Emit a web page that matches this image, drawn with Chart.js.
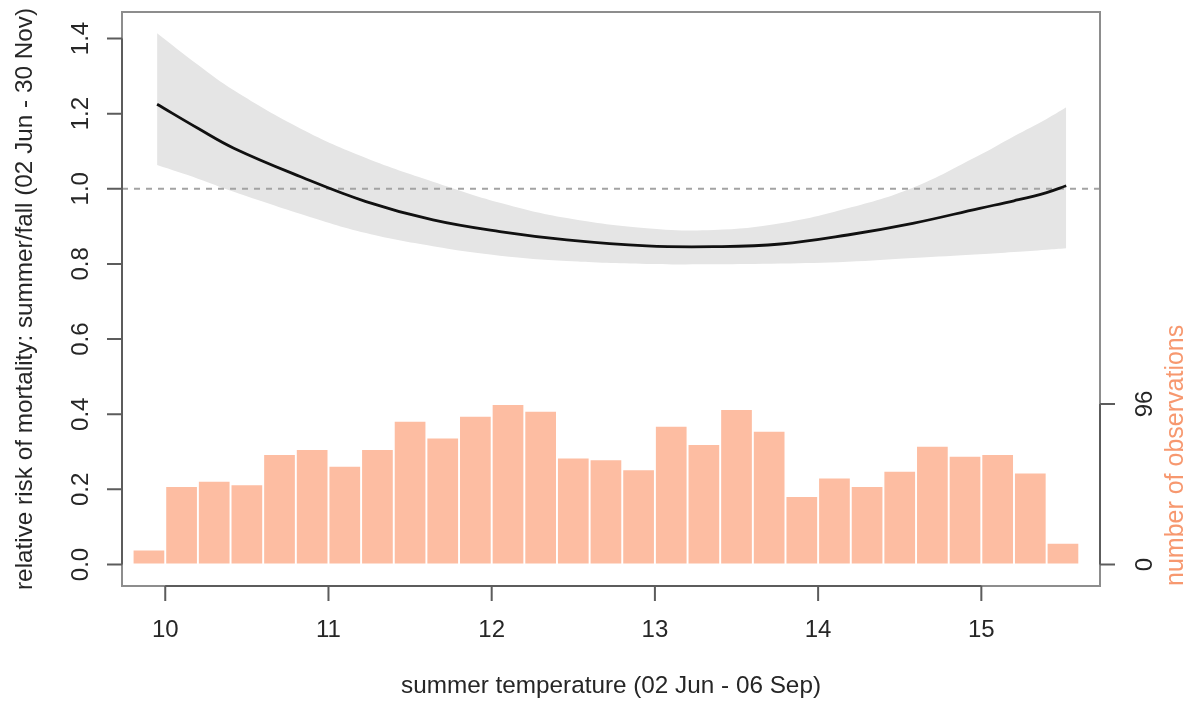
<!DOCTYPE html>
<html>
<head>
<meta charset="utf-8">
<script src="https://cdn.jsdelivr.net/npm/chart.js@4.4.1/dist/chart.umd.min.js"></script>
<style>
  html, body { margin: 0; padding: 0; background: #ffffff; }
  #wrap { width: 1190px; height: 704px; }
</style>
</head>
<body>
<div id="wrap"><canvas id="c" width="1190" height="704"></canvas></div>
<script>
// ---------- data ----------
// histogram: bin centres (bin width 0.2) and counts
const binCenters = [9.9, 10.1, 10.3, 10.5, 10.7, 10.9, 11.1, 11.3, 11.5, 11.7, 11.9, 12.1, 12.3, 12.5, 12.7,
                    12.9, 13.1, 13.3, 13.5, 13.7, 13.9, 14.1, 14.3, 14.5, 14.7, 14.9, 15.1, 15.3, 15.5];
const binCounts  = [9, 47, 50, 48, 66, 69, 59, 69, 86, 76, 89, 96, 92, 64, 63,
                    57, 83, 72, 93, 80, 41, 52, 47, 56, 71, 65, 66, 55, 13];

// exposure-response curve and its confidence band
const temps   = [9.95, 10.2, 10.42, 10.83, 11.23, 11.64, 12.05, 12.46, 12.95, 13.36, 13.77, 14.18, 14.58, 14.99, 15.2, 15.4, 15.52];
const rrFit   = [1.225, 1.161, 1.108, 1.032, 0.966, 0.917, 0.886, 0.864, 0.848, 0.846, 0.853, 0.877, 0.908, 0.948, 0.968, 0.990, 1.008];
const rrUpper = [1.414, 1.330, 1.262, 1.160, 1.082, 1.019, 0.963, 0.922, 0.895, 0.890, 0.908, 0.948, 1.003, 1.090, 1.140, 1.186, 1.217];
const rrLower = [1.063, 1.027, 0.992, 0.933, 0.882, 0.847, 0.822, 0.808, 0.800, 0.799, 0.801, 0.806, 0.816, 0.826, 0.832, 0.838, 0.842];

const refValue = 1.0;

// ticks
const xTicks = [10, 11, 12, 13, 14, 15];
const yTicks = [0.0, 0.2, 0.4, 0.6, 0.8, 1.0, 1.2, 1.4];
const yTickLabels = ['0.0', '0.2', '0.4', '0.6', '0.8', '1.0', '1.2', '1.4'];
const countTicks = [0, 96];
const countTickLabels = ['0', '96'];

// texts
const xTitle = 'summer temperature (02 Jun - 06 Sep)';
const yTitle = 'relative risk of mortality: summer/fall (02 Jun - 30 Nov)';
const y2Title = 'number of observations';

// ---------- scale ranges / styles ----------
const X_MIN = 9.735, X_MAX = 15.727;
const Y_MIN = -0.0572, Y_MAX = 1.4705;
const COUNT_PER_RR = 224.7;           // 96 observations sit at rr ~0.427
const FONT_TICK = '24px "Liberation Sans", Arial, Helvetica, sans-serif';
const FONT_TITLE = '24.3px "Liberation Sans", Arial, Helvetica, sans-serif';
const FONT_TITLE2 = '25px "Liberation Sans", Arial, Helvetica, sans-serif';
const SALMON_BAR = '#FDBDA2';
const SALMON_TEXT = '#F7986F';

const pts = (xs, ys) => xs.map((v, i) => ({ x: v, y: ys[i] }));

const rAxes = {
  id: 'rAxes',
  afterDraw(chart) {
    const { ctx, chartArea: a, scales } = chart;
    const sx = scales.x, sy = scales.y, sc = scales.yc;
    const TICK = 15;
    ctx.save();
    // box
    ctx.strokeStyle = '#8d8d8d';
    ctx.lineWidth = 2;
    ctx.strokeRect(a.left, a.top, a.right - a.left, a.bottom - a.top);

    ctx.strokeStyle = '#5c5c5c';
    ctx.lineWidth = 2;
    ctx.fillStyle = '#262626';
    ctx.font = FONT_TICK;

    // left axis
    ctx.beginPath();
    ctx.moveTo(a.left, sy.getPixelForValue(yTicks[0]));
    ctx.lineTo(a.left, sy.getPixelForValue(yTicks[yTicks.length - 1]));
    yTicks.forEach(v => {
      const p = sy.getPixelForValue(v);
      ctx.moveTo(a.left - TICK, p); ctx.lineTo(a.left, p);
    });
    ctx.stroke();
    ctx.textAlign = 'center';
    ctx.textBaseline = 'alphabetic';
    yTicks.forEach((v, i) => {
      const p = sy.getPixelForValue(v);
      ctx.save();
      ctx.translate(a.left - 34, p);
      ctx.rotate(-Math.PI / 2);
      ctx.fillText(yTickLabels[i], 0, 0);
      ctx.restore();
    });

    // bottom axis
    ctx.beginPath();
    ctx.moveTo(sx.getPixelForValue(xTicks[0]), a.bottom);
    ctx.lineTo(sx.getPixelForValue(xTicks[xTicks.length - 1]), a.bottom);
    xTicks.forEach(v => {
      const p = sx.getPixelForValue(v);
      ctx.moveTo(p, a.bottom); ctx.lineTo(p, a.bottom + TICK);
    });
    ctx.stroke();
    xTicks.forEach(v => {
      ctx.fillText(String(v), sx.getPixelForValue(v), a.bottom + 51);
    });

    // right axis (counts)
    ctx.beginPath();
    ctx.moveTo(a.right, sc.getPixelForValue(countTicks[0]));
    ctx.lineTo(a.right, sc.getPixelForValue(countTicks[countTicks.length - 1]));
    countTicks.forEach(v => {
      const p = sc.getPixelForValue(v);
      ctx.moveTo(a.right, p); ctx.lineTo(a.right + TICK, p);
    });
    ctx.stroke();
    countTicks.forEach((v, i) => {
      const p = sc.getPixelForValue(v);
      ctx.save();
      ctx.translate(a.right + 52, p);
      ctx.rotate(-Math.PI / 2);
      ctx.fillText(countTickLabels[i], 0, 0);
      ctx.restore();
    });

    // titles
    ctx.font = FONT_TITLE;
    ctx.fillText(xTitle, (a.left + a.right) / 2, a.bottom + 107);
    ctx.save();
    ctx.translate(32, (a.top + a.bottom) / 2);
    ctx.rotate(-Math.PI / 2);
    ctx.fillText(yTitle, 0, 0);
    ctx.restore();

    ctx.save();
    ctx.font = FONT_TITLE2;
    ctx.fillStyle = SALMON_TEXT;
    ctx.translate(a.right + 83, a.bottom);
    ctx.rotate(-Math.PI / 2);
    ctx.textAlign = 'left';
    ctx.fillText(y2Title, 0, 0);
    ctx.restore();

    ctx.restore();
  }
};

new Chart(document.getElementById('c'), {
  type: 'line',
  data: {
    datasets: [
      {
        label: 'relative risk',
        data: pts(temps, rrFit),
        borderColor: '#111111',
        borderWidth: 2.8,
        pointRadius: 0,
        fill: false,
        tension: 0.4,
        yAxisID: 'y'
      },
      {
        label: 'reference',
        data: [{ x: X_MIN, y: refValue }, { x: X_MAX, y: refValue }],
        borderColor: '#a3a3a3',
        borderWidth: 2,
        borderDash: [6, 6],
        pointRadius: 0,
        fill: false,
        yAxisID: 'y'
      },
      {
        label: 'upper',
        data: pts(temps, rrUpper),
        borderWidth: 0,
        borderColor: 'rgba(0,0,0,0)',
        backgroundColor: '#E5E5E5',
        pointRadius: 0,
        fill: '+1',
        tension: 0.4,
        yAxisID: 'y'
      },
      {
        label: 'lower',
        data: pts(temps, rrLower),
        borderWidth: 0,
        borderColor: 'rgba(0,0,0,0)',
        pointRadius: 0,
        fill: false,
        tension: 0.4,
        yAxisID: 'y'
      },
      {
        type: 'bar',
        label: 'observations',
        data: pts(binCenters, binCounts),
        backgroundColor: SALMON_BAR,
        borderColor: '#ffffff',
        borderWidth: 1.3,
        borderSkipped: false,
        barPercentage: 1.0,
        categoryPercentage: 1.0,
        yAxisID: 'yc'
      }
    ]
  },
  options: {
    responsive: false,
    devicePixelRatio: 1,
    animation: false,
    parsing: true,
    layout: { padding: { left: 122, right: 90, top: 12, bottom: 118 } },
    plugins: { legend: { display: false }, tooltip: { enabled: false } },
    scales: {
      x: { type: 'linear', min: X_MIN, max: X_MAX, display: false, offset: false },
      y: { type: 'linear', min: Y_MIN, max: Y_MAX, display: false },
      yc: { type: 'linear', position: 'right', min: Y_MIN * COUNT_PER_RR, max: Y_MAX * COUNT_PER_RR, display: false }
    }
  },
  plugins: [rAxes]
});
</script>
</body>
</html>
